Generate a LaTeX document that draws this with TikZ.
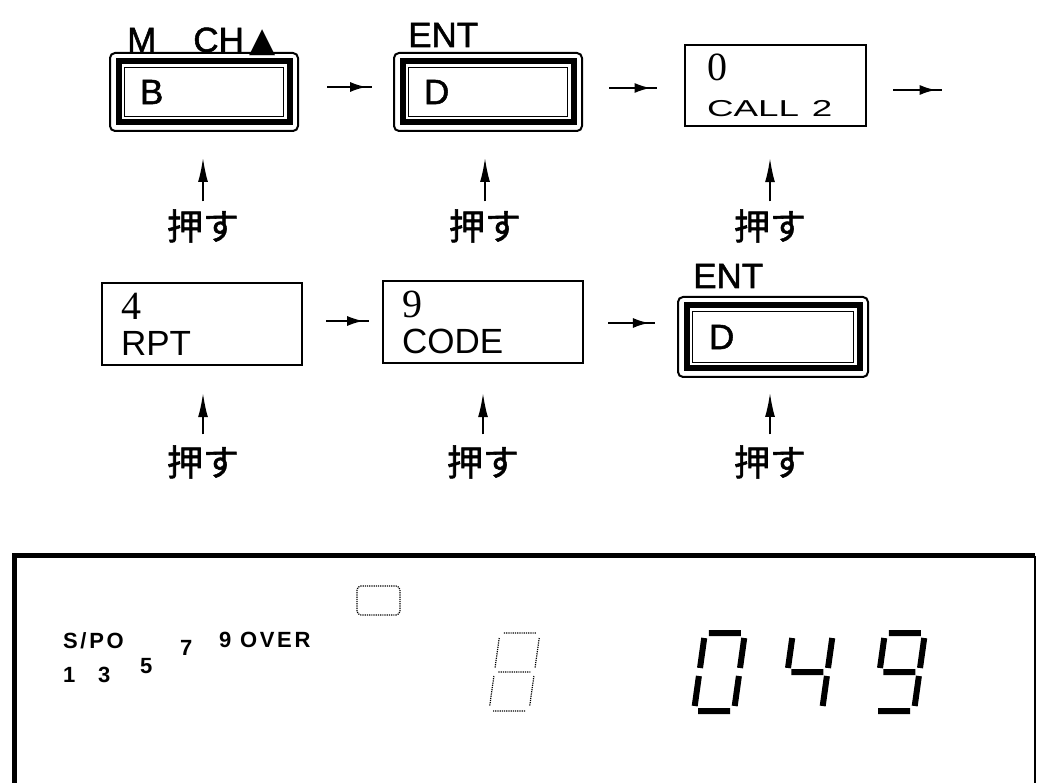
\documentclass[tikz,border=0pt]{standalone}
\usepackage{fontspec}
\setmainfont{Liberation Sans}
\newfontfamily\digitfont{Liberation Serif}
\newfontfamily\heavyfont[FakeBold=1.5]{Liberation Sans}
\newfontfamily\jpfont[FakeBold=1.5]{Noto Sans CJK JP}
\newfontfamily\symfont{DejaVu Sans}
\newfontfamily\panelfont[LetterSpace=12]{Liberation Sans}
\usetikzlibrary{positioning,arrows.meta,decorations.markings}

% seven-segment pieces, origin at the lower left corner of a digit
\newcommand{\lcda}{(4,-78) -- (36,-78) }
\newcommand{\lcdb}{(40,-73) -- (40,-43) }
\newcommand{\lcdc}{(40,-35) -- (40,-5) }
\newcommand{\lcdd}{(4,0) -- (36,0) }
\newcommand{\lcde}{(0,-35) -- (0,-5) }
\newcommand{\lcdf}{(0,-73) -- (0,-43) }
\newcommand{\lcdg}{(4,-39) -- (36,-39) }

\begin{document}
\begin{tikzpicture}[
  x=1pt, y=-1pt,
  keybox/.style={draw, rounded corners=5pt, line width=2pt, minimum width=188pt,
    minimum height=78pt, inner xsep=30pt, text width=128pt, align=left,
    font=\heavyfont\fontsize{35}{36}\selectfont},
  plainbox/.style={draw, line width=2.5pt, minimum width=200pt, minimum height=82pt,
    inner xsep=19pt, text width=162pt, align=left, font=\fontsize{35}{36}\selectfont},
  keylabel/.style={inner sep=0pt, anchor=base west, font=\heavyfont\fontsize{35}{36}\selectfont},
  pushlabel/.style={inner sep=0pt, font=\jpfont\fontsize{36}{36}\selectfont},
  flow/.style={line width=1.6pt, postaction={decorate},
    decoration={markings, mark=at position 0.87 with {\arrow{Latex[length=16pt,width=10pt]}}}},
  press/.style={line width=1.6pt, -{Latex[length=24pt,width=10pt]}},
  lcdseg/.style={line width=6pt},
  lcdghost/.style={line width=1.2pt, densely dotted},
  paneltext/.style={inner sep=0pt, anchor=base west,
    font=\panelfont\bfseries\fontsize{22}{22}\selectfont}
]
\fill[white] (0,0) rectangle (1037,783);
\useasboundingbox (0,0) rectangle (1037,783);

% first row
\node[keybox] (kB) at (204,92) {B};
\node[keybox] (kD) at (488,92) {D};
\node[plainbox, minimum width=181pt, minimum height=81pt, inner xsep=22pt,
  text width=137pt] (kC) at (775.5,85.5)
  {{\digitfont\fontsize{40}{36}\selectfont 0}\\
   {\fontsize{23}{24}\selectfont\scalebox{1.6}[1]{CALL\hspace{8pt}2}}};
\node[keylabel] (lMch) at (127,52) {M\hspace{37pt}CH\hspace{6pt}{\symfont\fontsize{34}{36}\selectfont ▲}};
\node[keylabel] (lEnt) at (408,47) {ENT};
\coordinate (nextstep) at (942,90);

\draw[flow] ([shift={(28pt,5pt)}]kB.east) -- ([shift={(-21pt,5pt)}]kB.east -| kD.west);
\draw[flow] ([shift={(26pt,4pt)}]kD.east) -- ([shift={(-27pt,4pt)}]kD.east -| kC.west);
\draw[flow] ([shift={(26pt,-4.5pt)}]kC.east) -- (nextstep);

\node[pushlabel] (push1) at (203,226) {押す};
\node[pushlabel] (push2) at (485,226) {押す};
\node[pushlabel] (push3) at (770,226) {押す};
\draw[press, shorten <=8pt, shorten >=26pt] (push1.north) -- (push1.north |- kB.south);
\draw[press, shorten <=8pt, shorten >=26pt] (push2.north) -- (push2.north |- kD.south);
\draw[press, shorten <=8pt, shorten >=31pt] (push3.north) -- (push3.north |- kC.south);

% second row
\node[plainbox] (kRpt) at (202,324)
  {{\digitfont\fontsize{40}{36}\selectfont 4}\\RPT};
\node[plainbox] (kCode) at (483,322)
  {{\digitfont\fontsize{40}{36}\selectfont 9}\\CODE};
\node[keybox, minimum width=190pt, minimum height=80pt] (kD2) at (773,337) {D};
\node[keylabel] (lEnt2) at (693,288) {ENT};

\draw[flow] ([shift={(23pt,3pt)}]kRpt.east) -- ([shift={(-13pt,3pt)}]kRpt.east -| kCode.west);
\draw[flow] ([shift={(24pt,-1pt)}]kCode.east) -- ([shift={(-22pt,-1pt)}]kCode.east -| kD2.west);

\node[pushlabel] (push4) at (203,462) {押す};
\node[pushlabel] (push5) at (483,462) {押す};
\node[pushlabel] (push6) at (770,462) {押す};
\draw[press, shorten <=11pt, shorten >=27pt] (push4.north) -- (push4.north |- kRpt.south);
\draw[press, shorten <=11pt, shorten >=29pt] (push5.north) -- (push5.north |- kCode.south);
\draw[press, shorten <=11pt, shorten >=15pt] (push6.north) -- (push6.north |- kD2.south);

% inner frames of the keys
\foreach \k in {kB,kD,kD2} {
  \draw[line width=6pt] ([shift={(9.5pt,-9.5pt)}]\k.north west) rectangle ([shift={(-9.5pt,9.5pt)}]\k.south east);
  \draw[line width=1.5pt] ([shift={(15.5pt,-15.5pt)}]\k.north west) rectangle ([shift={(-15.5pt,15.5pt)}]\k.south east);
}

% display panel
\draw[line width=5pt] (14,800) -- (14,556) -- (1035,556);
\draw[line width=2.5pt] (1035,556) -- (1035,800);

\node[paneltext] (tSpo) at (63,648) {S/PO};
\node[paneltext] (tSeven) at (180,655) {7};
\node[paneltext] (tOver) at (219,647) {9 OVER};
\node[paneltext] (tOne) at (63,682) {1};
\node[paneltext] (tThree) at (98,682) {3};
\node[paneltext] (tFive) at (140,673) {5};

\draw[lcdghost, rounded corners=4pt] (357,586) rectangle (400,615);
\begin{scope}[shift={(489,711)}, xslant=0.14]
  \draw[lcdghost] \lcda \lcdb \lcdc \lcdd \lcde \lcdf \lcdg;
\end{scope}
\begin{scope}[shift={(694,711)}, xslant=0.14]
  \draw[lcdseg] \lcda \lcdb \lcdc \lcdd \lcde \lcdf;
\end{scope}
\begin{scope}[shift={(782,711)}, xslant=0.14]
  \draw[lcdseg] \lcdb \lcdc \lcdf \lcdg;
\end{scope}
\begin{scope}[shift={(874,711)}, xslant=0.14]
  \draw[lcdseg] \lcda \lcdb \lcdc \lcdd \lcdf \lcdg;
\end{scope}
\end{tikzpicture}
\end{document}
